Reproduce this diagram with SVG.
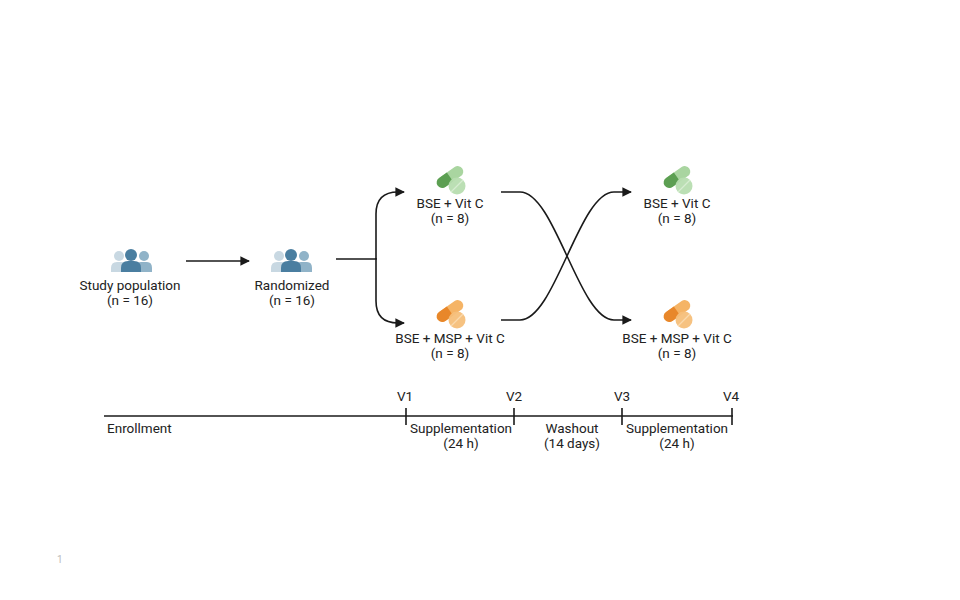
<svg xmlns="http://www.w3.org/2000/svg" width="960" height="600" viewBox="0 0 960 600">
<defs>
<style>
text{font-family:Roboto,"Liberation Sans",sans-serif;font-size:13.5px;fill:#222;}
.c{text-anchor:middle;}
.ln{fill:none;stroke:#1a1a1a;stroke-width:1.6;}
.tick{stroke:#1a1a1a;stroke-width:1.6;}
</style>
<marker id="ah" viewBox="0 0 10 10" refX="9" refY="5" markerWidth="6" markerHeight="6" orient="auto" markerUnits="strokeWidth">
<path d="M0,0 L10,5 L0,10 z" fill="#1a1a1a"/>
</marker>
<g id="people">
<circle cx="-12" cy="-4" r="5" fill="#c8d8e2"/>
<path d="M-20,12 V8 Q-20,2 -14,2 H-10 Q-4,2 -4,8 V12 z" fill="#c8d8e2"/>
<circle cx="13" cy="-4" r="5" fill="#90b3c8"/>
<path d="M4,12 V8 Q4,2 10,2 H16 Q21,2 21,8 V12 z" fill="#90b3c8"/>
<circle cx="0" cy="-5" r="6" fill="#4a7ea0"/>
<path d="M-10,12 V8 Q-10,1 -3,1 H3 Q10,1 10,8 V12 z" fill="#4a7ea0"/>
</g>
<g id="pillG">
<g transform="translate(-1,-4) rotate(-35)">
<rect x="-15" y="-5.5" width="30" height="11" rx="5.5" fill="#a9d5a0"/>
<path d="M-9.5,-5.5 H0 V5.5 H-9.5 A5.5,5.5 0 0 1 -9.5,-5.5 z" fill="#5c9f52"/>
</g>
<circle cx="6" cy="5" r="8.5" fill="#b7ddb0" fill-opacity="0.95"/>
<line x1="0" y1="11" x2="12" y2="-1" stroke="#d6edd1" stroke-width="1.2"/>
</g>
<g id="pillO">
<g transform="translate(-1,-4) rotate(-35)">
<rect x="-15" y="-5.5" width="30" height="11" rx="5.5" fill="#f5b466"/>
<path d="M-9.5,-5.5 H0 V5.5 H-9.5 A5.5,5.5 0 0 1 -9.5,-5.5 z" fill="#e8872a"/>
</g>
<circle cx="6" cy="5" r="8.5" fill="#f6bf7a" fill-opacity="0.95"/>
<line x1="0" y1="11" x2="12" y2="-1" stroke="#fad9ad" stroke-width="1.2"/>
</g>
</defs>
<rect width="960" height="600" fill="#fff"/>

<g id="study">
<use href="#people" x="131" y="260"/>
<text class="c" x="130" y="290">Study population</text>
<text class="c" x="130" y="305">(n = 16)</text>
</g>
<g id="randomized">
<use href="#people" x="291" y="260"/>
<text class="c" x="292" y="290">Randomized</text>
<text class="c" x="292" y="305">(n = 16)</text>
</g>
<g id="armA1">
<use href="#pillG" x="451" y="181"/>
<text class="c" x="450" y="208">BSE + Vit C</text>
<text class="c" x="450" y="223">(n = 8)</text>
</g>
<g id="armB1">
<use href="#pillO" x="451" y="315"/>
<text class="c" x="450" y="343">BSE + MSP + Vit C</text>
<text class="c" x="450" y="358">(n = 8)</text>
</g>
<g id="armA2">
<use href="#pillG" x="678" y="181"/>
<text class="c" x="677" y="208">BSE + Vit C</text>
<text class="c" x="677" y="223">(n = 8)</text>
</g>
<g id="armB2">
<use href="#pillO" x="678" y="315"/>
<text class="c" x="677" y="343">BSE + MSP + Vit C</text>
<text class="c" x="677" y="358">(n = 8)</text>
</g>

<g id="connectors">
<path class="ln" d="M186,261 H249" marker-end="url(#ah)"/>
<path class="ln" d="M336,259 H376 V214 Q376,192 398,192 H404" marker-end="url(#ah)"/>
<path class="ln" d="M376,258 V301 Q376,323 398,323 H404" marker-end="url(#ah)"/>
<path class="ln" d="M501,192 H520 C555,192 579,320 614,320 H631" marker-end="url(#ah)"/>
<path class="ln" d="M501,320 H520 C555,320 579,192 614,192 H631" marker-end="url(#ah)"/>
</g>

<g id="timeline">
<line class="tick" x1="104" y1="416" x2="733" y2="416"/>
<line class="tick" x1="406" y1="408" x2="406" y2="425"/>
<line class="tick" x1="514" y1="408" x2="514" y2="425"/>
<line class="tick" x1="622" y1="408" x2="622" y2="425"/>
<line class="tick" x1="732" y1="408" x2="732" y2="425"/>
<text class="c" x="405" y="401">V1</text>
<text class="c" x="514" y="401">V2</text>
<text class="c" x="622" y="401">V3</text>
<text class="c" x="731" y="401">V4</text>
<text x="107" y="433">Enrollment</text>
<text class="c" x="461" y="433">Supplementation</text>
<text class="c" x="461" y="448">(24 h)</text>
<text class="c" x="572" y="433">Washout</text>
<text class="c" x="572" y="448">(14 days)</text>
<text class="c" x="677" y="433">Supplementation</text>
<text class="c" x="677" y="448">(24 h)</text>
</g>
<text x="57" y="563" style="font-size:10px;fill:#bbb">1</text>
</svg>
